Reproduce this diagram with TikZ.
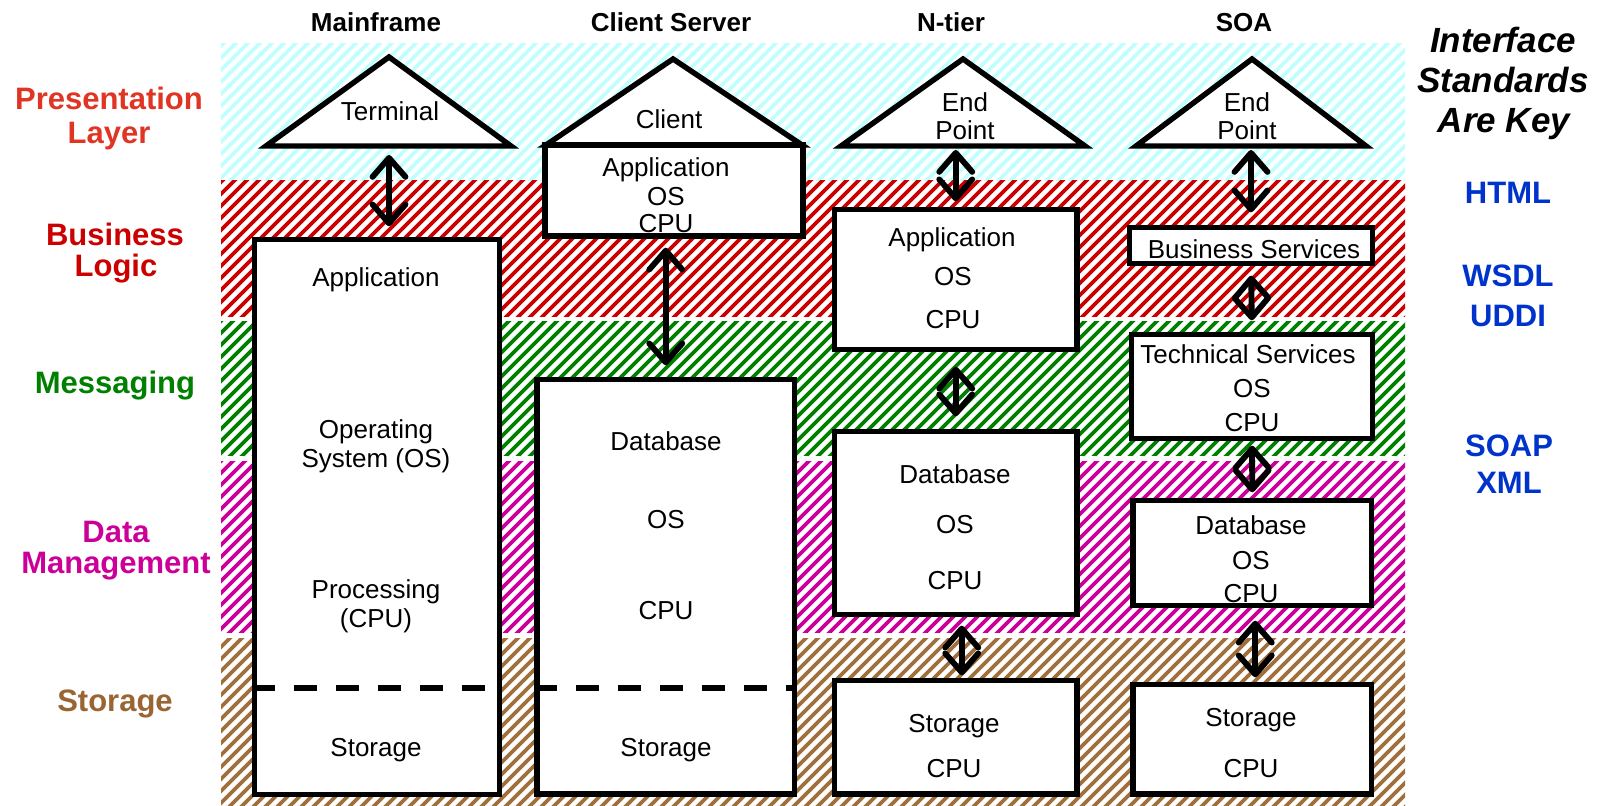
\documentclass[tikz,border=0pt]{standalone}
\usepackage{fontspec}
\setmainfont{Liberation Sans}
\usetikzlibrary{arrows.meta,fit,calc}
\definecolor{cyanh}{RGB}{192,255,255}
\definecolor{redh}{RGB}{204,0,0}
\definecolor{greenh}{RGB}{0,128,0}
\definecolor{magh}{RGB}{204,0,153}
\definecolor{brownh}{RGB}{160,112,60}
\definecolor{preslbl}{RGB}{224,52,36}
\definecolor{buslbl}{RGB}{204,0,0}
\definecolor{msglbl}{RGB}{0,128,0}
\definecolor{datalbl}{RGB}{204,0,153}
\definecolor{storlbl}{RGB}{153,102,51}
\definecolor{stdblue}{RGB}{0,51,204}
\newcommand\hatchband[3]{%
  \begin{scope}
    \clip (221,#1) rectangle (1405,#2);
    \foreach \hx in {21,33,...,1413} {
      \draw[#3, line width=1.9pt] (\hx,#2+5) -- ++(200,-200);
    }
  \end{scope}}
\tikzset{
  box/.style={draw=black, line width=2.7pt, fill=white, inner sep=0pt},
  tri/.style={draw=black, line width=2.7pt, fill=white, line join=miter},
  btxt/.style={font=\fontsize{13}{15}\selectfont, anchor=base, inner sep=0pt},
  hdr/.style={font=\bfseries\fontsize{13}{15}\selectfont, anchor=base, inner sep=0pt},
  lyr/.style={font=\bfseries\fontsize{15.5}{18}\selectfont, anchor=base, inner sep=0pt},
  std/.style={font=\bfseries\fontsize{15.5}{18}\selectfont, anchor=base, inner sep=0pt, text=stdblue},
  key/.style={font=\bfseries\itshape\fontsize{17.5}{20}\selectfont, anchor=base, inner sep=0pt},
  dbl/.style={line width=2.9pt, {Straight Barb[length=9.5pt,width=16.5pt,round]}-{Straight Barb[length=9.5pt,width=16.5pt,round]}},
  sep/.style={line width=2.7pt, dash pattern=on 11.5pt off 9.5pt},
}
\begin{document}
\begin{tikzpicture}[x=0.5pt,y=-0.5pt]
\useasboundingbox (0,0) rectangle (1616,806);
\fill[white] (0,0) rectangle (1616,806);
% layer bands
\hatchband{44}{181}{cyanh}
\hatchband{181}{317}{redh}
\hatchband{322}{456}{greenh}
\hatchband{462}{632}{magh}
\hatchband{638}{806}{brownh}
% column headers
\node[hdr] (hmf) at (376,32) {Mainframe};
\node[hdr] (hcs) at (671,32) {Client Server};
\node[hdr] (hnt) at (951,32) {N-tier};
\node[hdr] (hsoa) at (1244,32) {SOA};
% layer labels
\node[lyr, text=preslbl] (lp1) at (109,110) {Presentation};
\node[lyr, text=preslbl] (lp2) at (109,144) {Layer};
\node[lyr, text=buslbl] (lb1) at (115,246) {Business};
\node[lyr, text=buslbl] (lb2) at (116,277) {Logic};
\node[lyr, text=msglbl] (lm) at (115,394) {Messaging};
\node[lyr, text=datalbl] (ld1) at (116,543) {Data};
\node[lyr, text=datalbl] (ld2) at (116,574) {Management};
\node[lyr, text=storlbl] (ls) at (115,711) {Storage};
% interface standards
\node[key] (k1) at (1503,53) {Interface};
\node[key] (k2) at (1503,93) {Standards};
\node[key] (k3) at (1504,133) {Are Key};
\node[std] (s1) at (1508,204) {HTML};
\node[std] (s2) at (1508,287) {WSDL};
\node[std] (s3) at (1508,327) {UDDI};
\node[std] (s4) at (1509,457) {SOAP};
\node[std] (s5) at (1509,494) {XML};
% triangles
\draw[tri] (266,146) -- (389,57) -- (511,146) -- cycle;
\coordinate (mftri) at (389,146);
\draw[tri] (546,145) -- (673,59) -- (802,145) -- cycle;
\coordinate (cstri) at (673,145);
\draw[tri] (841,146) -- (963,59) -- (1085,146) -- cycle;
\coordinate (nttri) at (963,146);
\draw[tri] (1136,146) -- (1252,59) -- (1366,146) -- cycle;
\coordinate (soatri) at (1252,146);
% boxes
\node[box, fit={(254.5,239.5) (499.5,794.5)}] (mfbox) {};
\node[box, fit={(545,145) (803,236)}] (client) {};
\node[box, fit={(537,379.5) (794.5,794)}] (csdb) {};
\node[box, fit={(834.5,209.5) (1077,349.5)}] (ntapp) {};
\node[box, fit={(834.5,431.5) (1077,614.5)}] (ntdb) {};
\node[box, fit={(834.5,680.5) (1077,794)}] (ntsto) {};
\node[box, fit={(1129.5,227.5) (1372.5,263.5)}] (soabus) {};
\node[box, fit={(1131.5,334.5) (1372.5,438.5)}] (soatech) {};
\node[box, fit={(1133,500.5) (1371.5,605.5)}] (soadb) {};
\node[box, fit={(1133,684.5) (1371.5,794)}] (soasto) {};
% dashed separators
\coordinate (dashy) at (0,688);
\draw[sep] (mfbox.west |- dashy) -- (mfbox.east |- dashy);
\draw[sep] (csdb.west |- dashy) -- (csdb.east |- dashy);
% triangle texts
\node[btxt] (tterm) at (390,121) {Terminal};
\node[btxt] (tcli) at (669,129) {Client};
\node[btxt] (tne1) at (965,112) {End};
\node[btxt] (tne2) at (965,140) {Point};
\node[btxt] (tse1) at (1247,112) {End};
\node[btxt] (tse2) at (1247,140) {Point};
% mainframe texts
\node[btxt] (m1) at (376,287) {Application};
\node[btxt] (m2) at (376,439) {Operating};
\node[btxt] (m3) at (376,468) {System (OS)};
\node[btxt] (m4) at (376,598) {Processing};
\node[btxt] (m5) at (376,627) {(CPU)};
\node[btxt] (m6) at (376,756) {Storage};
% client server texts
\node[btxt] (c1) at (666,177) {Application};
\node[btxt] (c2) at (666,206) {OS};
\node[btxt] (c3) at (666,233) {CPU};
\node[btxt] (c4) at (666,451) {Database};
\node[btxt] (c5) at (666,529) {OS};
\node[btxt] (c6) at (666,619) {CPU};
\node[btxt] (c7) at (666,756) {Storage};
% n-tier texts
\node[btxt] (n1) at (952,247) {Application};
\node[btxt] (n2) at (953,286) {OS};
\node[btxt] (n3) at (953,329) {CPU};
\node[btxt] (n4) at (955,484) {Database};
\node[btxt] (n5) at (955,534) {OS};
\node[btxt] (n6) at (955,589) {CPU};
\node[btxt] (n7) at (954,732) {Storage};
\node[btxt] (n8) at (954,777) {CPU};
% soa texts
\node[btxt] (o1) at (1254,259) {Business Services};
\node[btxt] (o2) at (1248,364) {Technical Services};
\node[btxt] (o3) at (1252,398) {OS};
\node[btxt] (o4) at (1252,432) {CPU};
\node[btxt] (o5) at (1251,535) {Database};
\node[btxt] (o6) at (1251,569) {OS};
\node[btxt] (o7) at (1251,603) {CPU};
\node[btxt] (o8) at (1251,726) {Storage};
\node[btxt] (o9) at (1251,777) {CPU};
% connectors
\draw[dbl, shorten <=4.5pt, shorten >=5.25pt] (mftri) -- (mftri |- mfbox.north);
\draw[dbl, shorten <=4.5pt, shorten >=5.75pt] (csdb.north |- client.south) -- (csdb.north);
\draw[dbl, shorten <=2pt, shorten >=2.75pt] (ntapp.north |- nttri) -- (ntapp.north);
\draw[dbl, shorten <=7.25pt, shorten >=6.25pt] (ntapp.south) -- (ntdb.north);
\draw[dbl, shorten <=4.25pt, shorten >=1.25pt] ([xshift=3pt]ntdb.south) -- ([xshift=3pt]ntsto.north);
\draw[dbl, shorten <=2pt, shorten >=6.25pt] (soabus.north |- soatri) -- (soabus.north);
\draw[dbl, shorten <=4.75pt, shorten >=5.75pt] (soabus.south) -- (soatech.north);
\draw[dbl, shorten <=2.25pt, shorten >=2.75pt] (soatech.south) -- (soadb.north);
\draw[dbl, shorten <=6.25pt, shorten >=2.25pt] ([xshift=1.5pt]soadb.south) -- ([xshift=1.5pt]soasto.north);
\end{tikzpicture}
\end{document}
